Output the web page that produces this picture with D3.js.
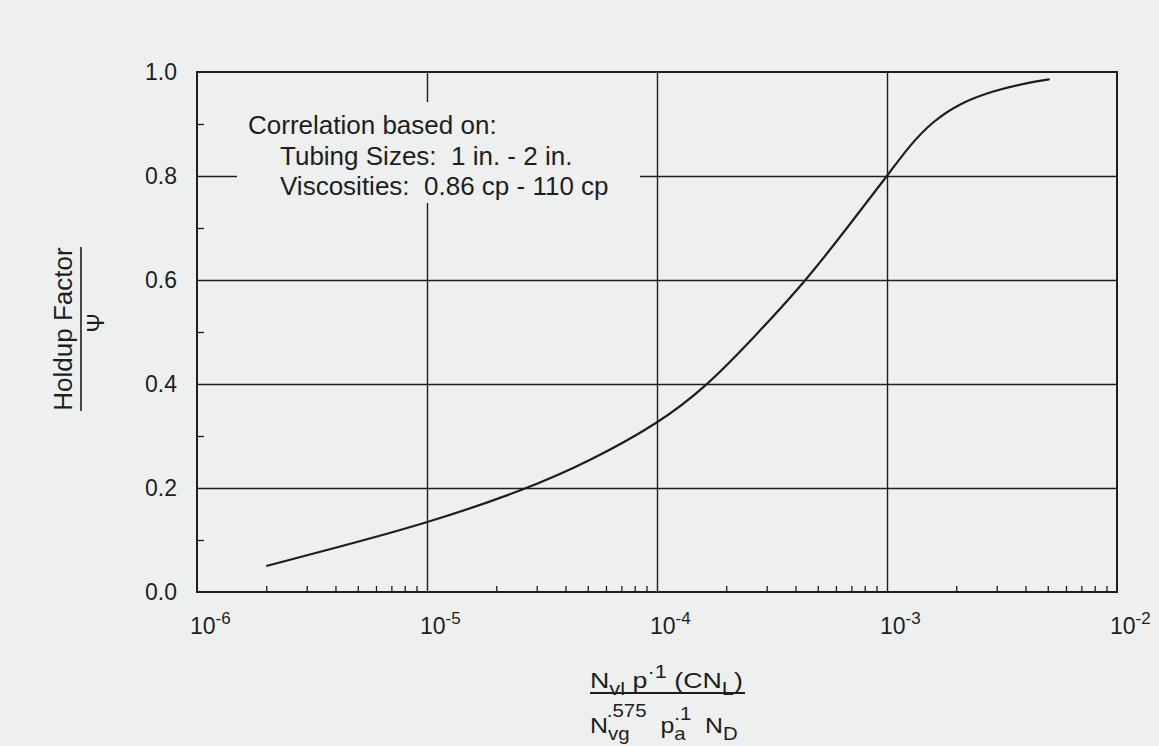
<!DOCTYPE html>
<html>
<head>
<meta charset="utf-8">
<script src="https://cdn.jsdelivr.net/npm/d3@7"></script>
<style>
  html, body { margin: 0; padding: 0; background: #eeefef; }
  svg { display: block; font-family: "Liberation Sans", Arial, Helvetica, sans-serif; }
</style>
</head>
<body>
<svg id="chart" width="1159" height="746"></svg>
<script>
// ---------------------------------------------------------------------------
// Data
// ---------------------------------------------------------------------------
const abscissa = [2.0e-6, 4.0e-6, 1.0e-5, 2.8e-5, 5.0e-5, 1.0e-4, 1.66e-4, 2.71e-4,
                  4.47e-4, 6.7e-4, 1.0e-3, 1.26e-3, 1.58e-3, 2.07e-3, 2.9e-3, 4.05e-3, 5.1e-3];
const holdupFactor = [0.05, 0.085, 0.132, 0.20, 0.25, 0.322, 0.397, 0.495,
                      0.60, 0.70, 0.80, 0.86, 0.905, 0.94, 0.964, 0.979, 0.986];

const xMajor = [1e-6, 1e-5, 1e-4, 1e-3, 1e-2];
const xExponents = ["-6", "-5", "-4", "-3", "-2"];
const yMajor = [0, 0.2, 0.4, 0.6, 0.8, 1.0];
const yMinor = [0.1, 0.3, 0.5, 0.7, 0.9];
const noteLines = ["Correlation based on:", "Tubing Sizes:  1 in. - 2 in.", "Viscosities:  0.86 cp - 110 cp"];

// ---------------------------------------------------------------------------
// Layout
// ---------------------------------------------------------------------------
const ink = "#1e1e1e";
const paper = "#eeefef";
const margin = { top: 72, right: 42, bottom: 154, left: 197 };
const W = 1159, H = 746;
const w = W - margin.left - margin.right;
const h = H - margin.top - margin.bottom;

const svg = d3.select("#chart");
const g = svg.append("g").attr("transform", `translate(${margin.left},${margin.top})`);

const x = d3.scaleLog().domain([1e-6, 1e-2]).range([0, w]);
const y = d3.scaleLinear().domain([0, 1]).range([h, 0]);

// minor x ticks 2..9 of each decade
const xMinor = [];
for (let e = -6; e < -2; e++) for (let k = 2; k <= 9; k++) xMinor.push(k * 10 ** e);

// gridlines
const gridX = g.append("g").attr("transform", `translate(0,${h})`)
  .call(d3.axisBottom(x).tickValues(xMajor.slice(1, -1)).tickSize(-h).tickFormat(""));
const gridY = g.append("g")
  .call(d3.axisLeft(y).tickValues(yMajor.slice(1, -1)).tickSize(-w).tickFormat(""));
[gridX, gridY].forEach(s => {
  s.select(".domain").remove();
  s.selectAll(".tick line").attr("stroke", ink).attr("stroke-width", 1.4);
});

// blank area behind the note
g.append("rect")
  .attr("x", 40).attr("y", 30).attr("width", 403).attr("height", 101)
  .attr("fill", paper);

// minor ticks (inward)
const minX = g.append("g").attr("transform", `translate(0,${h})`)
  .call(d3.axisBottom(x).tickValues(xMinor).tickSizeInner(-6).tickSizeOuter(0).tickFormat(""));
const minY = g.append("g")
  .call(d3.axisLeft(y).tickValues(yMinor).tickSizeInner(-7).tickSizeOuter(0).tickFormat(""));
[minX, minY].forEach(s => {
  s.select(".domain").remove();
  s.selectAll(".tick line").attr("stroke", ink).attr("stroke-width", 1.3);
});

// frame
g.append("rect")
  .attr("width", w).attr("height", h)
  .attr("fill", "none").attr("stroke", ink).attr("stroke-width", 2);

// y tick labels
const yAx = g.append("g")
  .call(d3.axisLeft(y).tickValues(yMajor).tickSize(0).tickPadding(20).tickFormat(d3.format(".1f")));
yAx.select(".domain").remove();
yAx.selectAll("text")
  .attr("font-size", 23).attr("fill", ink)
  .attr("font-family", "'Liberation Sans', Arial, sans-serif");

// x tick labels: 10 with superscript exponent
const xLab = g.append("g").selectAll("text")
  .data(xMajor)
  .join("text")
  .attr("x", d => x(d) - 7)
  .attr("y", h + 42)
  .attr("font-size", 23).attr("fill", ink);
xLab.append("tspan").text("10");
xLab.append("tspan")
  .attr("font-size", 17).attr("dy", -10)
  .text((d, i) => xExponents[i]);

// curve
const line = d3.line()
  .x((d, i) => x(abscissa[i]))
  .y(d => y(d))
  .curve(d3.curveBasis);
g.append("path")
  .datum(holdupFactor)
  .attr("d", line)
  .attr("fill", "none").attr("stroke", ink).attr("stroke-width", 2.2);

// note
const note = g.append("text").attr("font-size", 26).attr("fill", ink).style("white-space", "pre");
noteLines.forEach((t, i) => {
  note.append("tspan")
    .attr("x", i === 0 ? 51 : 83)
    .attr("y", 62 + i * 30.5)
    .text(t);
});

// y axis title
const yt = svg.append("g").attr("transform", "translate(72,329) rotate(-90)");
yt.append("text")
  .attr("text-anchor", "middle").attr("font-size", 26).attr("fill", ink)
  .text("Holdup Factor");
yt.append("line")
  .attr("x1", -82).attr("x2", 82).attr("y1", 9).attr("y2", 9)
  .attr("stroke", ink).attr("stroke-width", 1.6);
yt.append("text")
  .attr("x", 6).attr("y", 32)
  .attr("text-anchor", "middle").attr("font-size", 23).attr("fill", ink)
  .text("Ψ");

// x axis title (fraction), each line stretched to the width it has in the figure
const sub = 7, sup = -10, small = 18;
function fitWidth(sel, left, target) {
  const bb = sel.node().getBBox();
  sel.attr("transform", `translate(${left},0) scale(${target / bb.width},1) translate(${-bb.x},0)`);
}

const numG = svg.append("g");
const num = numG.append("text").attr("y", 688).attr("font-size", 22).attr("fill", ink).style("white-space", "pre");
num.append("tspan").text("N");
num.append("tspan").attr("font-size", small).attr("dy", sub).text("vl");
num.append("tspan").attr("dy", -sub).text(" p");
num.append("tspan").attr("font-size", small).attr("dy", sup).text("·1");
num.append("tspan").attr("dy", -sup).text(" (CN");
num.append("tspan").attr("font-size", small).attr("dy", sub).text("L");
num.append("tspan").attr("dy", -sub).text(")");
fitWidth(numG, 590, 153);

svg.append("line")
  .attr("x1", 590).attr("x2", 745).attr("y1", 693).attr("y2", 693)
  .attr("stroke", ink).attr("stroke-width", 2);

const denG = svg.append("g");
const den = denG.append("text").attr("y", 733).attr("font-size", 22).attr("fill", ink).style("white-space", "pre");
den.append("tspan").text("N");
den.append("tspan").attr("font-size", small).attr("dy", sub).text("vg");
den.append("tspan").attr("font-size", small).attr("dx", -20).attr("dy", -sub + sup - 6).text(".575");
den.append("tspan").attr("dy", -sup + 6).text("  p");
den.append("tspan").attr("font-size", small).attr("dy", sub).text("a");
den.append("tspan").attr("font-size", small).attr("dx", -10).attr("dy", -sub + sup - 3).text(".1");
den.append("tspan").attr("dy", -sup + 3).text("  N");
den.append("tspan").attr("font-size", small).attr("dy", sub).text("D");
fitWidth(denG, 590, 148);
</script>
</body>
</html>
